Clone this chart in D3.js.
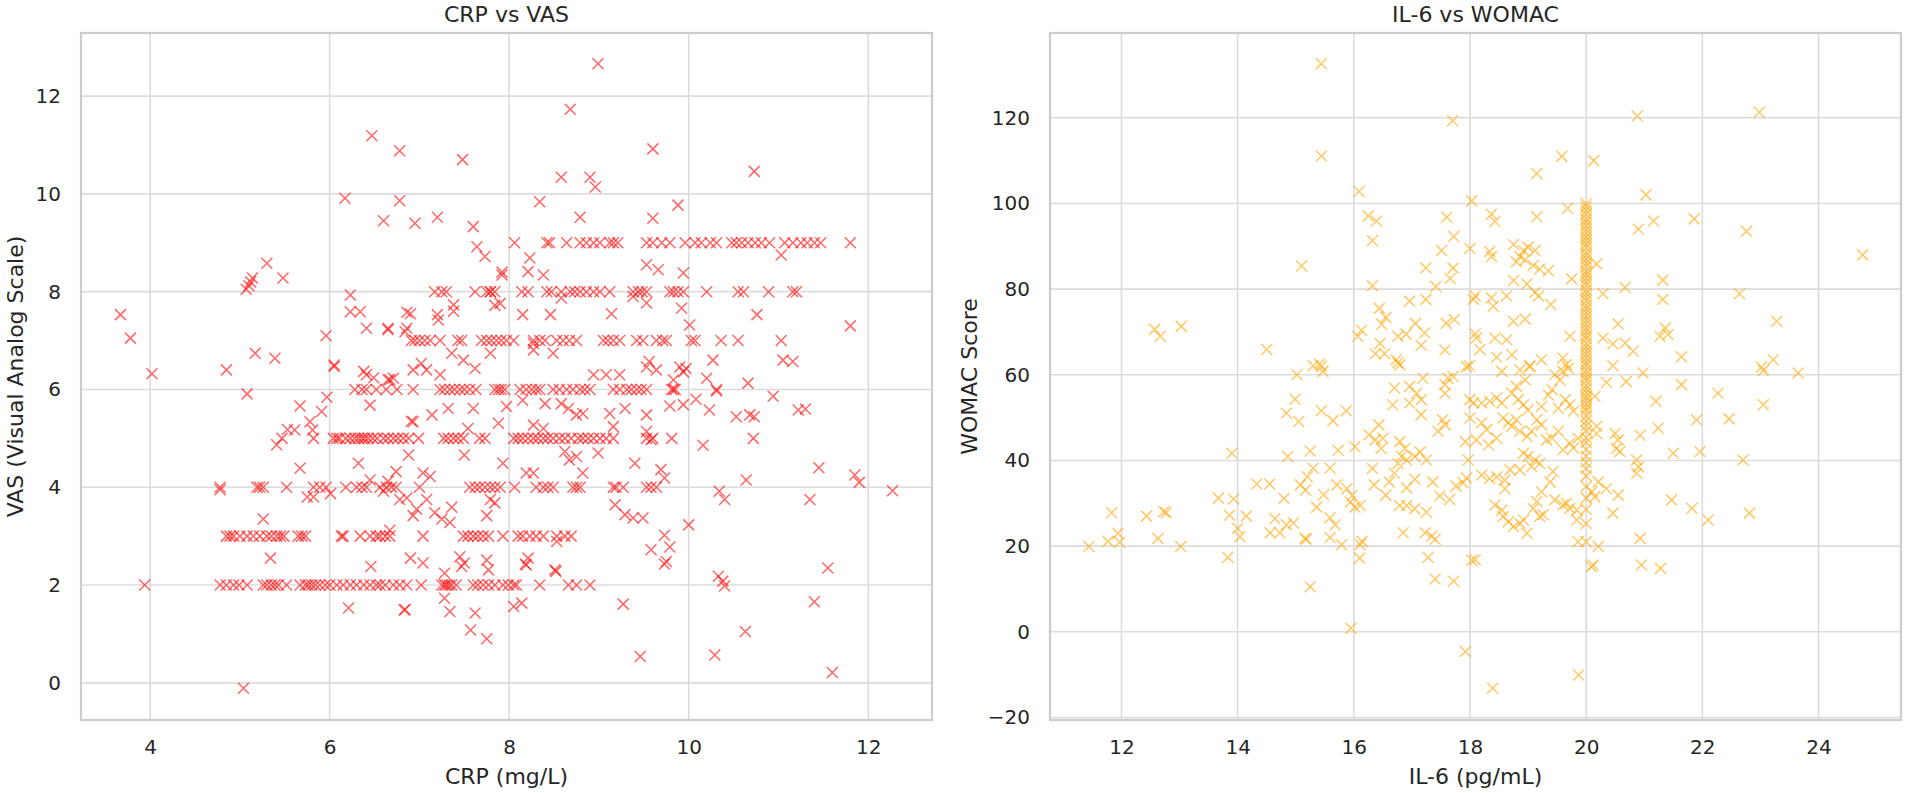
<!DOCTYPE html>
<html>
<head>
<meta charset="utf-8">
<script src="https://cdn.jsdelivr.net/npm/d3@7"></script>
<style>
  body { margin: 0; background: #fff; }
  svg { display: block; font-family: "DejaVu Sans", sans-serif; }
  .tick text { fill: #262626; font-size: 20px; }
  .grid line { stroke: #dcdcdc; stroke-width: 1.6; }
  .frame { fill: none; stroke: #cccccc; stroke-width: 2.2; }
  .title, .label { fill: #262626; font-size: 22px; }
</style>
</head>
<body>
<svg width="1908" height="793"></svg>
<script>
"use strict";

// ---- CRP vs VAS: CRP readings at each whole VAS score ----
const vasRow2 = [3.94, 4.78, 4.85, 4.93, 4.99, 5.08, 5.26, 5.30, 5.35, 5.39, 5.43, 5.52, 5.67, 5.73, 5.76, 5.80,
    5.84, 5.89, 5.95, 6.00, 6.08, 6.15, 6.23, 6.30, 6.38, 6.45, 6.52, 6.56, 6.62, 6.71, 6.78, 6.86, 7.02, 7.25,
    7.28, 7.30, 7.33, 7.36, 7.41, 7.60, 7.65, 7.71, 7.77, 7.84, 7.93, 7.99, 8.05, 8.08, 8.34, 8.66, 8.75, 8.90];
const vasRow3 = [4.85, 4.89, 4.93, 5.00, 5.08, 5.15, 5.22, 5.30, 5.35, 5.41, 5.45, 5.49, 5.65, 5.69, 5.73, 6.13,
    6.15, 6.34, 6.45, 6.52, 6.56, 6.62, 6.67, 7.04, 7.49, 7.54, 7.60, 7.65, 7.71, 7.77, 7.93, 8.10, 8.15, 8.23,
    8.30, 8.38, 8.53, 8.62, 8.69];
const vasRow4 = [4.78, 5.19, 5.22, 5.26, 5.52, 5.82, 5.89, 5.96, 6.18, 6.30, 6.36, 6.41, 6.56, 6.63, 6.69, 6.74,
    7.00, 7.56, 7.62, 7.67, 7.73, 7.79, 7.84, 7.90, 8.06, 8.30, 8.38, 8.43, 8.49, 8.71, 8.75, 8.79, 9.16, 9.19,
    9.27, 9.53, 9.58, 9.64];
const vasRow5 = [5.47, 5.82, 6.04, 6.08, 6.11, 6.18, 6.23, 6.28, 6.32, 6.36, 6.39, 6.43, 6.48, 6.53, 6.60, 6.65,
    6.71, 6.76, 6.82, 6.88, 6.99, 7.27, 7.32, 7.38, 7.43, 7.49, 7.67, 7.73, 8.05, 8.10, 8.15, 8.21, 8.27, 8.32,
    8.38, 8.43, 8.49, 8.56, 8.62, 8.69, 8.77, 8.82, 8.88, 8.94, 9.01, 9.08, 9.16, 9.53, 9.60, 9.81, 10.72];
const vasRow6 = [6.28, 6.36, 6.41, 6.52, 6.63, 6.75, 6.93, 7.23, 7.28, 7.34, 7.39, 7.45, 7.50, 7.56, 7.63, 7.84,
    7.88, 7.91, 7.95, 8.12, 8.19, 8.25, 8.30, 8.34, 8.49, 8.56, 8.64, 8.71, 8.79, 8.84, 8.90, 9.16, 9.23, 9.31,
    9.36, 9.42, 9.47, 9.53, 9.81, 9.83, 9.85, 10.31];
const vasRow7 = [6.91, 6.95, 7.00, 7.06, 7.12, 7.23, 7.43, 7.47, 7.69, 7.75, 7.80, 7.86, 7.91, 7.97, 8.05, 8.27,
    8.34, 8.40, 8.53, 8.60, 8.67, 8.75, 9.05, 9.10, 9.16, 9.23, 9.42, 9.49, 9.64, 9.71, 9.75, 10.03, 10.07,
    10.36, 10.55, 11.03];
const vasRow8 = [7.17, 7.25, 7.30, 7.62, 7.75, 7.79, 7.84, 8.14, 8.21, 8.42, 8.47, 8.58, 8.68, 8.73, 8.79, 8.86,
    8.94, 9.01, 9.12, 9.38, 9.44, 9.48, 9.53, 9.79, 9.83, 9.88, 9.94, 10.20, 10.55, 10.61, 10.89, 11.16, 11.20];
const vasRow9 = [8.06, 8.42, 8.45, 8.64, 8.79, 8.86, 8.94, 9.01, 9.12, 9.16, 9.21, 9.53, 9.60, 9.70, 9.79, 9.96,
    10.07, 10.14, 10.24, 10.31, 10.48, 10.53, 10.59, 10.66, 10.74, 10.81, 10.90, 11.07, 11.16, 11.25, 11.32,
    11.40, 11.47, 11.80];

// ---- CRP vs VAS: the remaining [CRP, VAS] points ----
const crpVasScatter = [
    [3.67, 7.53], [3.78, 7.05], [4.02, 6.32], [5.07, 8.05], [5.10, 8.12], [5.12, 8.20], [5.14, 8.28], [5.30, 8.58],
    [5.48, 8.28], [6.17, 9.91], [6.47, 11.19], [6.78, 10.88], [6.78, 9.86], [6.60, 9.45], [6.95, 9.40], [6.23, 7.93],
    [6.23, 7.59], [6.34, 7.59], [6.86, 7.58], [6.90, 7.55], [8.99, 12.66], [8.68, 11.73], [7.48, 10.70], [9.60, 10.92],
    [10.73, 10.46], [8.58, 10.34], [8.90, 10.34], [8.96, 10.14], [8.34, 9.84], [9.88, 9.77], [7.20, 9.52], [7.60, 9.33],
    [8.79, 9.52], [9.60, 9.50], [7.64, 8.92], [7.73, 8.72], [7.92, 8.34], [7.92, 8.40], [8.23, 8.69], [8.21, 8.41],
    [8.38, 8.34], [9.53, 8.55], [9.66, 8.45], [9.94, 8.38], [11.03, 8.75], [8.58, 7.87], [9.38, 7.90], [9.53, 7.77],
    [9.92, 7.66], [7.20, 7.53], [7.38, 7.73], [7.38, 7.60], [7.79, 8.00], [7.84, 7.72], [7.90, 7.76], [8.15, 7.53],
    [8.46, 7.53], [9.14, 7.55], [10.76, 7.53], [4.85, 6.40], [5.17, 6.74], [5.39, 6.64], [5.08, 5.91], [5.67, 5.66],
    [5.96, 7.10], [6.05, 6.47], [6.05, 6.50], [5.97, 5.84], [5.91, 5.55], [5.78, 5.34], [5.81, 5.17], [5.41, 4.87],
    [5.53, 5.18], [5.61, 5.17], [6.32, 4.49], [5.67, 4.39], [6.45, 4.15], [6.74, 4.32], [6.65, 4.12], [6.88, 4.66],
    [4.78, 3.95], [5.75, 3.80], [5.82, 3.80], [6.01, 3.87], [6.60, 3.92], [6.86, 3.78], [5.26, 3.35], [6.67, 3.12],
    [5.34, 2.55], [6.46, 2.38], [6.90, 2.55], [6.21, 1.53], [6.84, 1.50], [6.38, 6.37], [6.41, 6.30], [6.49, 6.24],
    [6.65, 6.20], [6.71, 6.23], [6.45, 5.68], [6.93, 6.40], [6.91, 5.35], [6.41, 7.25], [6.65, 7.25], [6.84, 7.18],
    [7.21, 7.42], [6.65, 7.22], [6.86, 7.25], [7.36, 6.74], [7.49, 6.60], [7.62, 6.43], [7.79, 6.74], [8.27, 6.94],
    [8.27, 6.81], [8.49, 6.74], [7.02, 6.53], [7.08, 6.40], [7.23, 6.30], [6.67, 6.20], [9.56, 6.57], [9.53, 6.46],
    [9.64, 6.40], [9.90, 6.46], [9.94, 6.36], [9.97, 6.43], [10.01, 7.32], [10.27, 6.60], [11.05, 6.60], [11.16, 6.57],
    [8.94, 6.30], [9.08, 6.30], [9.23, 6.30], [10.20, 6.23], [10.66, 6.13], [9.83, 6.20], [10.08, 5.80], [10.31, 5.97],
    [10.94, 5.86], [11.22, 5.58], [9.79, 5.66], [9.94, 5.69], [7.32, 5.61], [7.60, 5.61], [7.14, 5.48], [6.93, 5.34],
    [7.88, 5.31], [7.97, 5.65], [8.15, 5.78], [8.40, 5.71], [8.58, 5.71], [8.66, 5.61], [8.75, 5.48], [8.82, 5.51],
    [9.12, 5.51], [9.29, 5.61], [9.53, 5.48], [10.23, 5.58], [10.53, 5.44], [10.68, 5.48], [10.73, 5.44], [9.16, 5.24],
    [7.54, 5.20], [8.27, 5.27], [8.38, 5.20], [10.16, 4.86], [9.53, 5.14], [9.58, 4.97], [7.50, 4.66], [7.93, 4.49],
    [8.19, 4.29], [8.27, 4.29], [8.62, 4.73], [8.67, 4.56], [8.75, 4.63], [8.99, 4.70], [8.82, 4.29], [9.40, 4.49],
    [9.69, 4.36], [9.73, 4.19], [10.64, 4.15], [7.04, 4.29], [7.12, 4.22], [10.34, 3.92], [10.40, 3.75], [6.78, 3.75],
    [7.08, 3.75], [7.79, 3.75], [7.84, 3.68], [6.93, 3.42], [6.97, 3.55], [7.17, 3.48], [7.25, 3.35], [7.34, 3.28],
    [7.36, 3.59], [7.75, 3.42], [9.18, 3.64], [9.29, 3.44], [9.38, 3.37], [9.49, 3.37], [10.00, 3.23], [9.73, 3.02],
    [9.79, 2.78], [8.53, 2.89], [9.58, 2.72], [9.75, 2.48], [7.04, 2.45], [7.45, 2.58], [7.50, 2.45], [7.47, 2.38],
    [7.75, 2.51], [7.77, 2.31], [8.21, 2.55], [8.19, 2.41], [8.51, 2.31], [7.28, 2.24], [10.33, 2.18], [10.38, 2.08],
    [10.40, 1.98], [7.34, 1.46], [7.28, 1.73], [7.62, 1.43], [8.05, 1.56], [8.14, 1.63], [5.04, -0.11], [6.83, 1.49],
    [7.57, 1.08], [7.75, 0.90], [9.27, 1.61], [9.46, 0.54], [10.29, 0.57], [10.63, 1.05], [11.40, 1.66], [11.60, 0.21],
    [11.55, 2.35], [9.73, 2.43], [8.52, 2.28], [8.18, 2.43], [11.80, 7.30], [11.85, 4.25], [11.90, 4.10], [12.27, 3.93],
    [11.45, 4.40], [11.35, 3.75], [11.30, 5.60]
];

// ---- IL-6 vs WOMAC: WOMAC scores stacked at IL-6 = 20 ----
const il6Column20 = [100.0, 99.2, 98.3, 97.5, 96.4, 95.6, 94.8, 93.9, 93.1, 92.2, 91.4, 90.5, 89.7, 88.6, 87.9,
    87.0, 86.1, 85.3, 84.2, 83.4, 82.6, 81.7, 80.9, 79.8, 79.0, 78.1, 77.3, 76.2, 75.4, 74.5, 73.6, 72.8, 71.9,
    70.9, 70.1, 69.2, 68.4, 67.3, 66.5, 65.6, 64.8, 63.9, 63.0, 62.2, 61.1, 60.3, 59.4, 58.6, 57.5, 56.7, 55.8,
    54.9, 54.1, 53.2, 52.3, 51.6, 50.4, 49.2, 48.1, 46.9, 45.3, 44.2, 42.6, 41.0, 39.5, 38.1, 36.4, 33.9, 31.2,
    28.6, 25.3, 21.0];

// ---- IL-6 vs WOMAC: the remaining [IL-6, WOMAC] points ----
const il6WomacScatter = [
    [15.44, 132.6], [15.44, 111.1], [17.70, 119.3], [16.09, 102.8], [18.03, 100.6], [16.25, 97.1], [16.39, 95.9],
    [16.32, 91.3], [17.60, 96.8], [17.72, 92.3], [17.51, 89.0], [18.00, 89.5], [15.10, 85.4], [17.24, 85.0],
    [17.71, 84.9], [17.66, 82.5], [17.41, 80.6], [16.32, 80.8], [18.09, 78.4], [16.96, 77.2], [17.24, 77.6],
    [16.44, 75.5], [16.55, 73.4], [16.48, 71.8], [17.06, 72.0], [17.22, 69.8], [17.16, 66.9], [17.59, 72.0],
    [17.73, 72.9], [16.13, 70.4], [16.07, 69.0], [16.76, 69.0], [16.90, 69.5], [16.45, 67.3], [16.37, 64.9],
    [16.53, 64.9], [16.76, 62.8], [17.57, 65.8], [17.99, 62.1], [18.09, 69.6], [12.57, 70.6], [12.67, 69.0],
    [13.03, 71.3], [14.50, 65.9], [15.30, 62.1], [15.41, 62.5], [20.88, 120.4], [22.98, 121.3], [19.58, 111.0],
    [19.15, 107.0], [20.13, 110.0], [21.03, 102.0], [19.68, 98.9], [18.37, 97.5], [18.43, 95.8], [19.15, 96.9],
    [20.90, 94.0], [21.16, 95.9], [21.86, 96.4], [22.76, 93.5], [24.76, 88.0], [18.34, 88.8], [18.37, 87.6],
    [18.75, 90.4], [18.92, 89.0], [19.00, 89.8], [18.86, 87.6], [18.80, 86.4], [18.95, 86.8], [19.12, 89.0],
    [19.09, 85.5], [19.20, 84.7], [19.35, 84.3], [18.75, 82.0], [18.98, 81.2], [19.75, 82.4], [20.18, 85.9],
    [21.32, 82.1], [20.67, 80.4], [20.29, 78.9], [21.32, 77.6], [22.64, 78.9], [18.06, 77.6], [18.37, 78.0],
    [18.40, 76.0], [18.63, 78.4], [19.12, 79.2], [19.18, 78.4], [19.39, 76.4], [18.75, 72.5], [18.95, 73.0],
    [23.28, 72.5], [20.55, 71.9], [21.36, 70.9], [21.41, 69.4], [21.27, 69.0], [20.29, 68.6], [20.46, 67.2],
    [20.67, 67.4], [20.81, 65.5], [19.72, 69.0], [18.11, 68.6], [18.17, 65.9], [18.43, 68.6], [18.63, 68.2],
    [18.72, 64.7], [18.46, 64.1], [21.64, 64.2], [23.22, 63.5], [23.05, 61.0], [20.46, 62.1], [19.23, 63.5],
    [19.60, 63.9], [19.66, 62.4], [19.03, 62.1], [11.44, 19.9], [11.83, 27.8], [11.77, 21.1], [11.94, 23.0],
    [11.97, 20.9], [12.43, 27.0], [12.73, 28.0], [12.77, 27.8], [12.63, 21.8], [13.02, 19.9], [13.67, 31.2],
    [13.93, 31.0], [13.83, 17.4], [13.90, 41.7], [13.86, 27.2], [14.15, 27.0], [14.00, 24.1], [14.04, 22.2],
    [14.33, 34.5], [14.55, 34.5], [14.80, 31.1], [14.64, 26.4], [14.56, 23.1], [14.73, 23.1], [14.84, 25.0],
    [14.96, 25.4], [15.16, 21.8], [15.18, 21.6], [15.02, 60.0], [14.99, 54.3], [14.84, 51.0], [15.05, 49.1],
    [14.86, 40.9], [15.25, 42.2], [15.44, 62.0], [15.47, 60.8], [15.44, 51.6], [15.64, 49.3], [15.87, 51.6],
    [15.73, 42.4], [16.02, 43.2], [15.30, 38.2], [15.20, 36.2], [15.08, 34.3], [15.17, 33.1], [15.59, 38.2],
    [15.48, 32.0], [15.71, 34.3], [15.88, 33.4], [15.97, 31.8], [15.94, 30.3], [16.02, 29.1], [16.11, 29.5],
    [15.59, 26.6], [15.68, 25.0], [15.79, 20.3], [15.59, 22.0], [16.11, 20.3], [16.14, 21.1], [16.10, 17.2],
    [15.36, 29.1], [15.25, 10.5], [15.95, 0.8], [16.43, 48.3], [16.50, 45.2], [16.47, 42.8], [16.79, 44.4],
    [16.88, 42.8], [16.82, 40.9], [16.76, 39.3], [16.91, 40.1], [17.05, 40.9], [17.14, 42.0], [17.25, 40.1],
    [16.32, 38.1], [16.35, 34.3], [16.55, 31.9], [16.61, 35.0], [16.70, 37.0], [16.79, 29.5], [16.91, 29.5],
    [17.05, 28.7], [16.91, 33.6], [17.05, 35.6], [17.25, 27.9], [17.36, 35.0], [17.48, 31.7], [17.65, 30.9],
    [17.76, 34.0], [17.88, 34.8], [17.94, 35.9], [16.85, 23.1], [17.23, 23.1], [17.34, 22.3], [17.40, 21.6],
    [17.28, 17.4], [17.40, 12.3], [17.72, 11.8], [18.03, 16.7], [17.92, -4.6], [16.26, 46.0], [16.37, 44.8],
    [16.70, 56.9], [16.96, 57.3], [17.08, 55.7], [17.16, 54.2], [17.19, 59.2], [17.57, 57.7], [17.62, 59.2],
    [17.71, 59.6], [17.57, 55.7], [16.67, 53.0], [16.96, 53.4], [17.16, 50.7], [17.53, 49.5], [17.45, 46.8],
    [17.57, 48.3], [17.94, 61.9], [18.06, 53.4], [18.00, 49.9], [17.92, 44.4], [17.97, 40.1], [16.79, 62.3],
    [16.73, 63.5], [18.55, 60.8], [18.86, 61.1], [19.03, 61.9], [18.95, 58.8], [18.80, 57.3], [18.72, 55.7],
    [18.83, 54.2], [18.92, 53.0], [19.00, 51.8], [18.00, 54.2], [18.20, 53.4], [18.34, 53.8], [18.46, 54.6],
    [18.55, 53.4], [19.23, 52.6], [19.35, 55.3], [19.41, 56.5], [19.52, 52.2], [19.64, 54.2], [19.72, 53.0],
    [19.78, 51.5], [19.46, 60.0], [19.55, 58.8], [19.60, 60.8], [19.69, 61.5], [18.20, 48.8], [18.29, 47.2],
    [18.11, 44.8], [18.32, 43.6], [18.46, 45.2], [18.57, 49.9], [18.66, 48.8], [18.72, 48.0], [18.80, 49.5],
    [18.86, 46.8], [18.98, 45.6], [19.06, 46.8], [19.15, 49.5], [19.23, 48.3], [19.32, 44.8], [19.41, 45.2],
    [19.52, 46.8], [19.60, 42.5], [19.72, 44.0], [19.78, 42.9], [19.86, 45.2], [19.00, 40.9], [19.12, 40.1],
    [19.20, 39.3], [19.06, 38.6], [18.92, 41.7], [18.20, 36.6], [18.34, 35.8], [18.60, 35.4], [18.60, 33.4],
    [18.69, 37.8], [18.86, 37.8], [18.46, 36.2], [19.43, 37.4], [19.38, 35.0], [19.23, 32.7], [19.15, 30.4],
    [19.46, 30.8], [19.60, 29.6], [19.66, 30.0], [19.09, 28.8], [19.84, 28.4], [19.84, 26.1], [19.72, 28.8],
    [18.43, 29.6], [18.55, 28.4], [18.57, 26.9], [18.66, 25.7], [18.75, 24.6], [18.86, 25.3], [18.98, 23.0],
    [18.92, 26.1], [19.20, 26.9], [19.26, 27.3], [19.86, 21.0], [18.09, 16.8], [20.09, 15.2], [20.12, 15.6],
    [20.21, 19.9], [20.10, 32.7], [20.21, 35.0], [20.15, 31.5], [20.35, 33.4], [20.55, 31.9], [20.46, 27.7],
    [20.18, 48.0], [20.15, 55.0], [20.18, 46.3], [20.35, 58.2], [20.69, 58.4], [20.98, 60.4], [20.50, 46.3],
    [20.55, 44.8], [20.52, 42.8], [20.58, 42.1], [20.93, 45.9], [21.24, 47.5], [20.87, 40.1], [20.90, 38.5],
    [20.87, 37.0], [21.20, 53.8], [21.64, 57.7], [21.90, 49.5], [21.50, 41.7], [21.96, 42.1], [22.27, 55.7],
    [22.46, 49.7], [23.05, 53.0], [22.70, 40.1], [23.02, 61.8], [23.65, 60.4], [21.47, 30.8], [21.82, 28.8],
    [22.10, 26.1], [22.81, 27.7], [20.93, 21.8], [20.95, 15.6], [21.28, 14.8], [18.39, -13.2], [19.87, -10.1]
];

// tick labels
const crpTicks = [4, 6, 8, 10, 12];
const vasTicks = [0, 2, 4, 6, 8, 10, 12];
const il6Ticks = [12, 14, 16, 18, 20, 22, 24];
const womacTicks = [-20, 0, 20, 40, 60, 80, 100, 120];

function rowsToPoints(rows) {
    let pts = [];
    rows.forEach((row, i) => row.forEach(x => pts.push([x, i + 2])));
    return pts;
}

const crpVasPoints = rowsToPoints([vasRow2, vasRow3, vasRow4, vasRow5, vasRow6, vasRow7, vasRow8, vasRow9])
    .concat(crpVasScatter);
const il6WomacPoints = il6Column20.map(w => [20, w]).concat(il6WomacScatter);

const svg = d3.select("svg");
const plotTop = 33, plotBottom = 720;

function drawPanel(opt) {
    const x = d3.scaleLinear().domain(opt.xDomain).range([opt.left, opt.right]);
    const y = d3.scaleLinear().domain(opt.yDomain).range([plotBottom, plotTop]);
    const g = svg.append("g");

    const grid = g.append("g").attr("class", "grid");
    grid.selectAll(".gx")
        .data(opt.xTicks)
        .enter().append("line")
        .attr("x1", d => x(d)).attr("x2", d => x(d))
        .attr("y1", plotTop).attr("y2", plotBottom);
    grid.selectAll(".gy")
        .data(opt.yTicks)
        .enter().append("line")
        .attr("x1", opt.left).attr("x2", opt.right)
        .attr("y1", d => y(d)).attr("y2", d => y(d));

    const xAxis = g.append("g")
        .attr("transform", `translate(0,${plotBottom})`)
        .call(d3.axisBottom(x).tickValues(opt.xTicks).tickSize(0).tickPadding(20).tickFormat(d3.format("d")));
    const yAxis = g.append("g")
        .attr("transform", `translate(${opt.left},0)`)
        .call(d3.axisLeft(y).tickValues(opt.yTicks).tickSize(0).tickPadding(20)
            .tickFormat(d => d < 0 ? "\u2212" + Math.abs(d) : d));
    [xAxis, yAxis].forEach(a => {
        a.select(".domain").remove();
        a.attr("font-family", null).attr("font-size", null);
    });

    g.append("rect")
        .attr("class", "frame")
        .attr("x", opt.left).attr("y", plotTop)
        .attr("width", opt.right - opt.left).attr("height", plotBottom - plotTop);

    g.selectAll(".mark")
        .data(opt.points)
        .enter().append("path")
        .attr("class", "mark")
        .attr("transform", d => `translate(${x(d[0])},${y(d[1])})`)
        .attr("d", "M-5.5,-5.5L5.5,5.5M-5.5,5.5L5.5,-5.5")
        .attr("fill", "none")
        .attr("stroke", opt.color)
        .attr("stroke-opacity", 0.6)
        .attr("stroke-width", 1.5);

    const mid = (opt.left + opt.right) / 2;
    g.append("text").attr("class", "title")
        .attr("x", mid).attr("y", 22)
        .attr("text-anchor", "middle")
        .text(opt.title);
    g.append("text").attr("class", "label")
        .attr("x", mid).attr("y", 784)
        .attr("text-anchor", "middle")
        .text(opt.xLabel);
    g.append("text").attr("class", "label")
        .attr("transform", `translate(${opt.yLabelX},${(plotTop + plotBottom) / 2}) rotate(-90)`)
        .attr("text-anchor", "middle")
        .text(opt.yLabel);
}

drawPanel({
    left: 81, right: 932,
    xDomain: [3.23, 12.71], yDomain: [-0.76, 13.29],
    xTicks: crpTicks, yTicks: vasTicks,
    points: crpVasPoints, color: "#ff0000",
    title: "CRP vs VAS", xLabel: "CRP (mg/L)", yLabel: "VAS (Visual Analog Scale)",
    yLabelX: 23
});

drawPanel({
    left: 1050, right: 1901,
    xDomain: [10.77, 25.42], yDomain: [-20.6, 139.8],
    xTicks: il6Ticks, yTicks: womacTicks,
    points: il6WomacPoints, color: "#ffa500",
    title: "IL-6 vs WOMAC", xLabel: "IL-6 (pg/mL)", yLabel: "WOMAC Score",
    yLabelX: 977
});
</script>
</body>
</html>
